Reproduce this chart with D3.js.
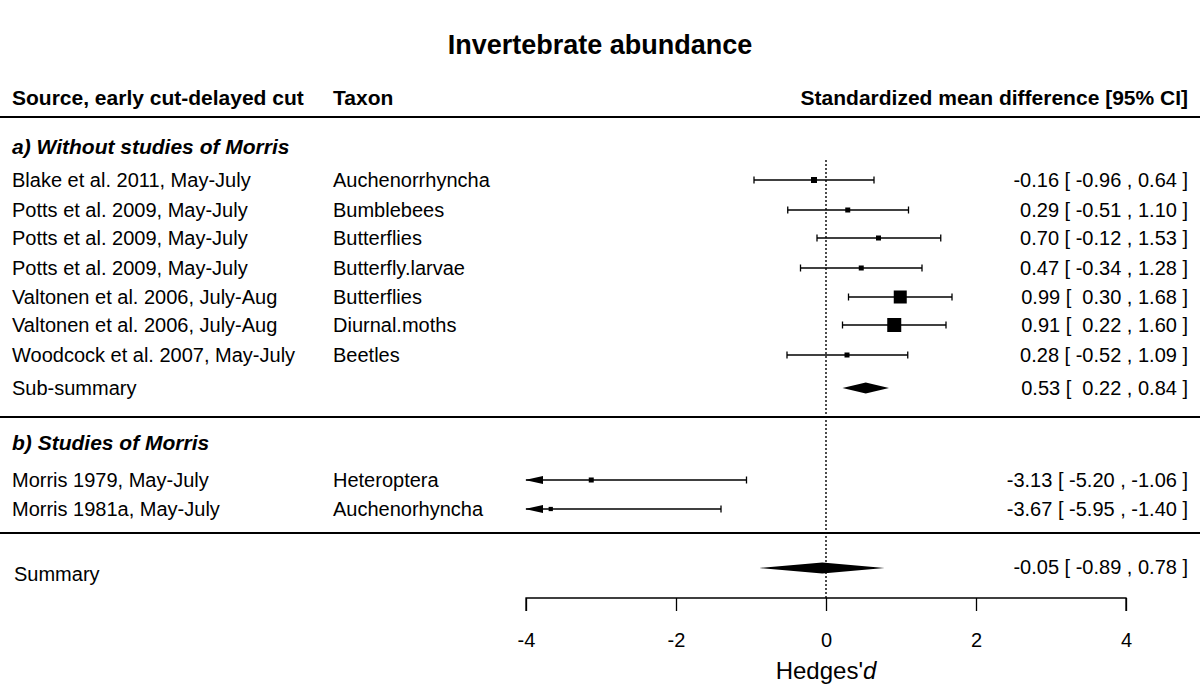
<!DOCTYPE html>
<html><head><meta charset="utf-8">
<script src="https://cdn.jsdelivr.net/npm/d3@7"></script>
<style>
body{margin:0;background:#fff;}
text{font-family:"Liberation Sans",Arial,Helvetica,sans-serif;fill:#000;white-space:pre;}
</style></head>
<body><svg id="c" width="1200" height="688"></svg>
<script>
// ---- data ----
const sourcesA = ["Blake et al. 2011, May-July","Potts et al. 2009, May-July","Potts et al. 2009, May-July","Potts et al. 2009, May-July","Valtonen et al. 2006, July-Aug","Valtonen et al. 2006, July-Aug","Woodcock et al. 2007, May-July"];
const taxaA = ["Auchenorrhyncha","Bumblebees","Butterflies","Butterfly.larvae","Butterflies","Diurnal.moths","Beetles"];
const estA = [-0.16, 0.29, 0.70, 0.47, 0.99, 0.91, 0.28];
const lowA = [-0.96,-0.51,-0.12,-0.34, 0.30, 0.22,-0.52];
const highA = [0.64, 1.10, 1.53, 1.28, 1.68, 1.60, 1.09];
const weightA = [2.4, 2.0, 2.0, 2.0, 5.2, 5.6, 2.0];
const subSummary = {est:0.53, low:0.22, high:0.84};

const sourcesB = ["Morris 1979, May-July","Morris 1981a, May-July"];
const taxaB = ["Heteroptera","Auchenorhyncha"];
const estB = [-3.13,-3.67];
const lowB = [-5.20,-5.95];
const highB = [-1.06,-1.40];
const weightB = [2.0, 1.7];

const summary = {est:-0.05, low:-0.89, high:0.78};
const axisTicks = [-4,-2,0,2,4];
const xDomain = [-4,4];

// ---- layout ----
const svg = d3.select("#c");
const x = d3.scaleLinear().domain(xDomain).range([526,1126]);
const sz = d3.scaleLinear().domain([0,5.6]).range([0,14]);
const FS = 20, FB = 21;
const leftX = 12, taxonX = 333, rightX = 1188;
const rowsA_y = [180,210,238,268,297,325,355];
const subY = 388, rowsB_y = [480,509], sumY = 570;

const fmt = v => v.toFixed(2);
const ciText = (e,l,h) => fmt(e) + " [ " + (l>=0?" ":"") + fmt(l) + " , " + fmt(h) + " ]";

function txt(xx,yy,s,opt={}){
  const t = svg.append("text").attr("x",xx).attr("y",yy).attr("dy","0.35em")
    .attr("font-size",opt.size||FS).attr("text-anchor",opt.anchor||"start").text(s);
  if(opt.bold) t.attr("font-weight","bold");
  if(opt.italic) t.attr("font-style","italic");
  return t;
}

// title
txt(600,45,"Invertebrate abundance",{size:27,bold:true,anchor:"middle"});
// headers
txt(leftX,98,"Source, early cut-delayed cut",{bold:true,size:FB});
txt(taxonX,98,"Taxon",{bold:true,size:FB});
txt(rightX,98,"Standardized mean difference [95% CI]",{bold:true,anchor:"end",size:FB});

// horizontal rules
[117,417,533].forEach(yy=>svg.append("line").attr("x1",0).attr("x2",1200).attr("y1",yy).attr("y2",yy)
  .attr("stroke","#000").attr("stroke-width",2.2));

// dotted zero line
svg.append("line").attr("x1",x(0)).attr("x2",x(0)).attr("y1",160).attr("y2",598)
  .attr("stroke","#000").attr("stroke-width",1.4).attr("stroke-dasharray","2,2");

// section headings
txt(leftX,147,"a) Without studies of Morris",{bold:true,italic:true,size:FB});
txt(leftX,443,"b) Studies of Morris",{bold:true,italic:true,size:FB});

function drawStudy(yy,src,tax,e,l,h,w){
  txt(leftX,yy,src);
  txt(taxonX,yy,tax);
  txt(rightX,yy,ciText(e,l,h),{anchor:"end"});
  const [d0,d1] = xDomain;
  const lc = Math.max(l,d0), hc = Math.min(h,d1);
  const g = svg.append("g").attr("stroke","#000").attr("stroke-width",1.3);
  g.append("line").attr("x1",x(lc)).attr("x2",x(hc)).attr("y1",yy).attr("y2",yy);
  if(l>=d0){ g.append("line").attr("x1",x(l)).attr("x2",x(l)).attr("y1",yy-3.5).attr("y2",yy+3.5); }
  else {
    svg.append("path").attr("d",`M${x(d0)-1},${yy} L${x(d0)+17},${yy-4} L${x(d0)+17},${yy+4} Z`).attr("fill","#000");
  }
  if(h<=d1){ g.append("line").attr("x1",x(h)).attr("x2",x(h)).attr("y1",yy-3.5).attr("y2",yy+3.5); }
  const s = sz(w);
  svg.append("rect").attr("x",x(e)-s/2).attr("y",yy-s/2).attr("width",s).attr("height",s).attr("fill","#000");
}

function diamond(yy,d,hh){
  svg.append("path").attr("d",`M${x(d.low)},${yy} L${x(d.est)},${yy-hh} L${x(d.high)},${yy} L${x(d.est)},${yy+hh} Z`).attr("fill","#000");
}

sourcesA.forEach((s,i)=>drawStudy(rowsA_y[i],s,taxaA[i],estA[i],lowA[i],highA[i],weightA[i]));
txt(leftX,subY,"Sub-summary");
txt(rightX,subY,ciText(subSummary.est,subSummary.low,subSummary.high),{anchor:"end"});
diamond(subY,subSummary,5.5);

sourcesB.forEach((s,i)=>drawStudy(rowsB_y[i],s,taxaB[i],estB[i],lowB[i],highB[i],weightB[i]));

txt(14,sumY+4,"Summary");
txt(rightX,sumY-3,ciText(summary.est,summary.low,summary.high),{anchor:"end"});
diamond(sumY-2,summary,5.5);

// axis
const axis = d3.axisBottom(x).tickValues(axisTicks).tickSize(13).tickFormat(d => String(d));
const ag = svg.append("g").attr("transform","translate(0,598)").call(axis);
ag.select(".domain").attr("stroke-width",1.3).attr("d",`M${x(-4)},13V0H${x(4)}V13`);
ag.selectAll(".tick line").attr("stroke-width",1.3);
ag.selectAll(".tick text").attr("y",42).attr("dy","0.35em").attr("font-size",FS)
  .attr("font-family","Liberation Sans, Arial, sans-serif").attr("fill","#000");
const xl = svg.append("text").attr("x",x(0)).attr("y",671).attr("dy","0.35em").attr("text-anchor","middle").attr("font-size",24);
xl.append("tspan").text("Hedges'");
xl.append("tspan").attr("font-style","italic").text("d");
</script></body></html>
